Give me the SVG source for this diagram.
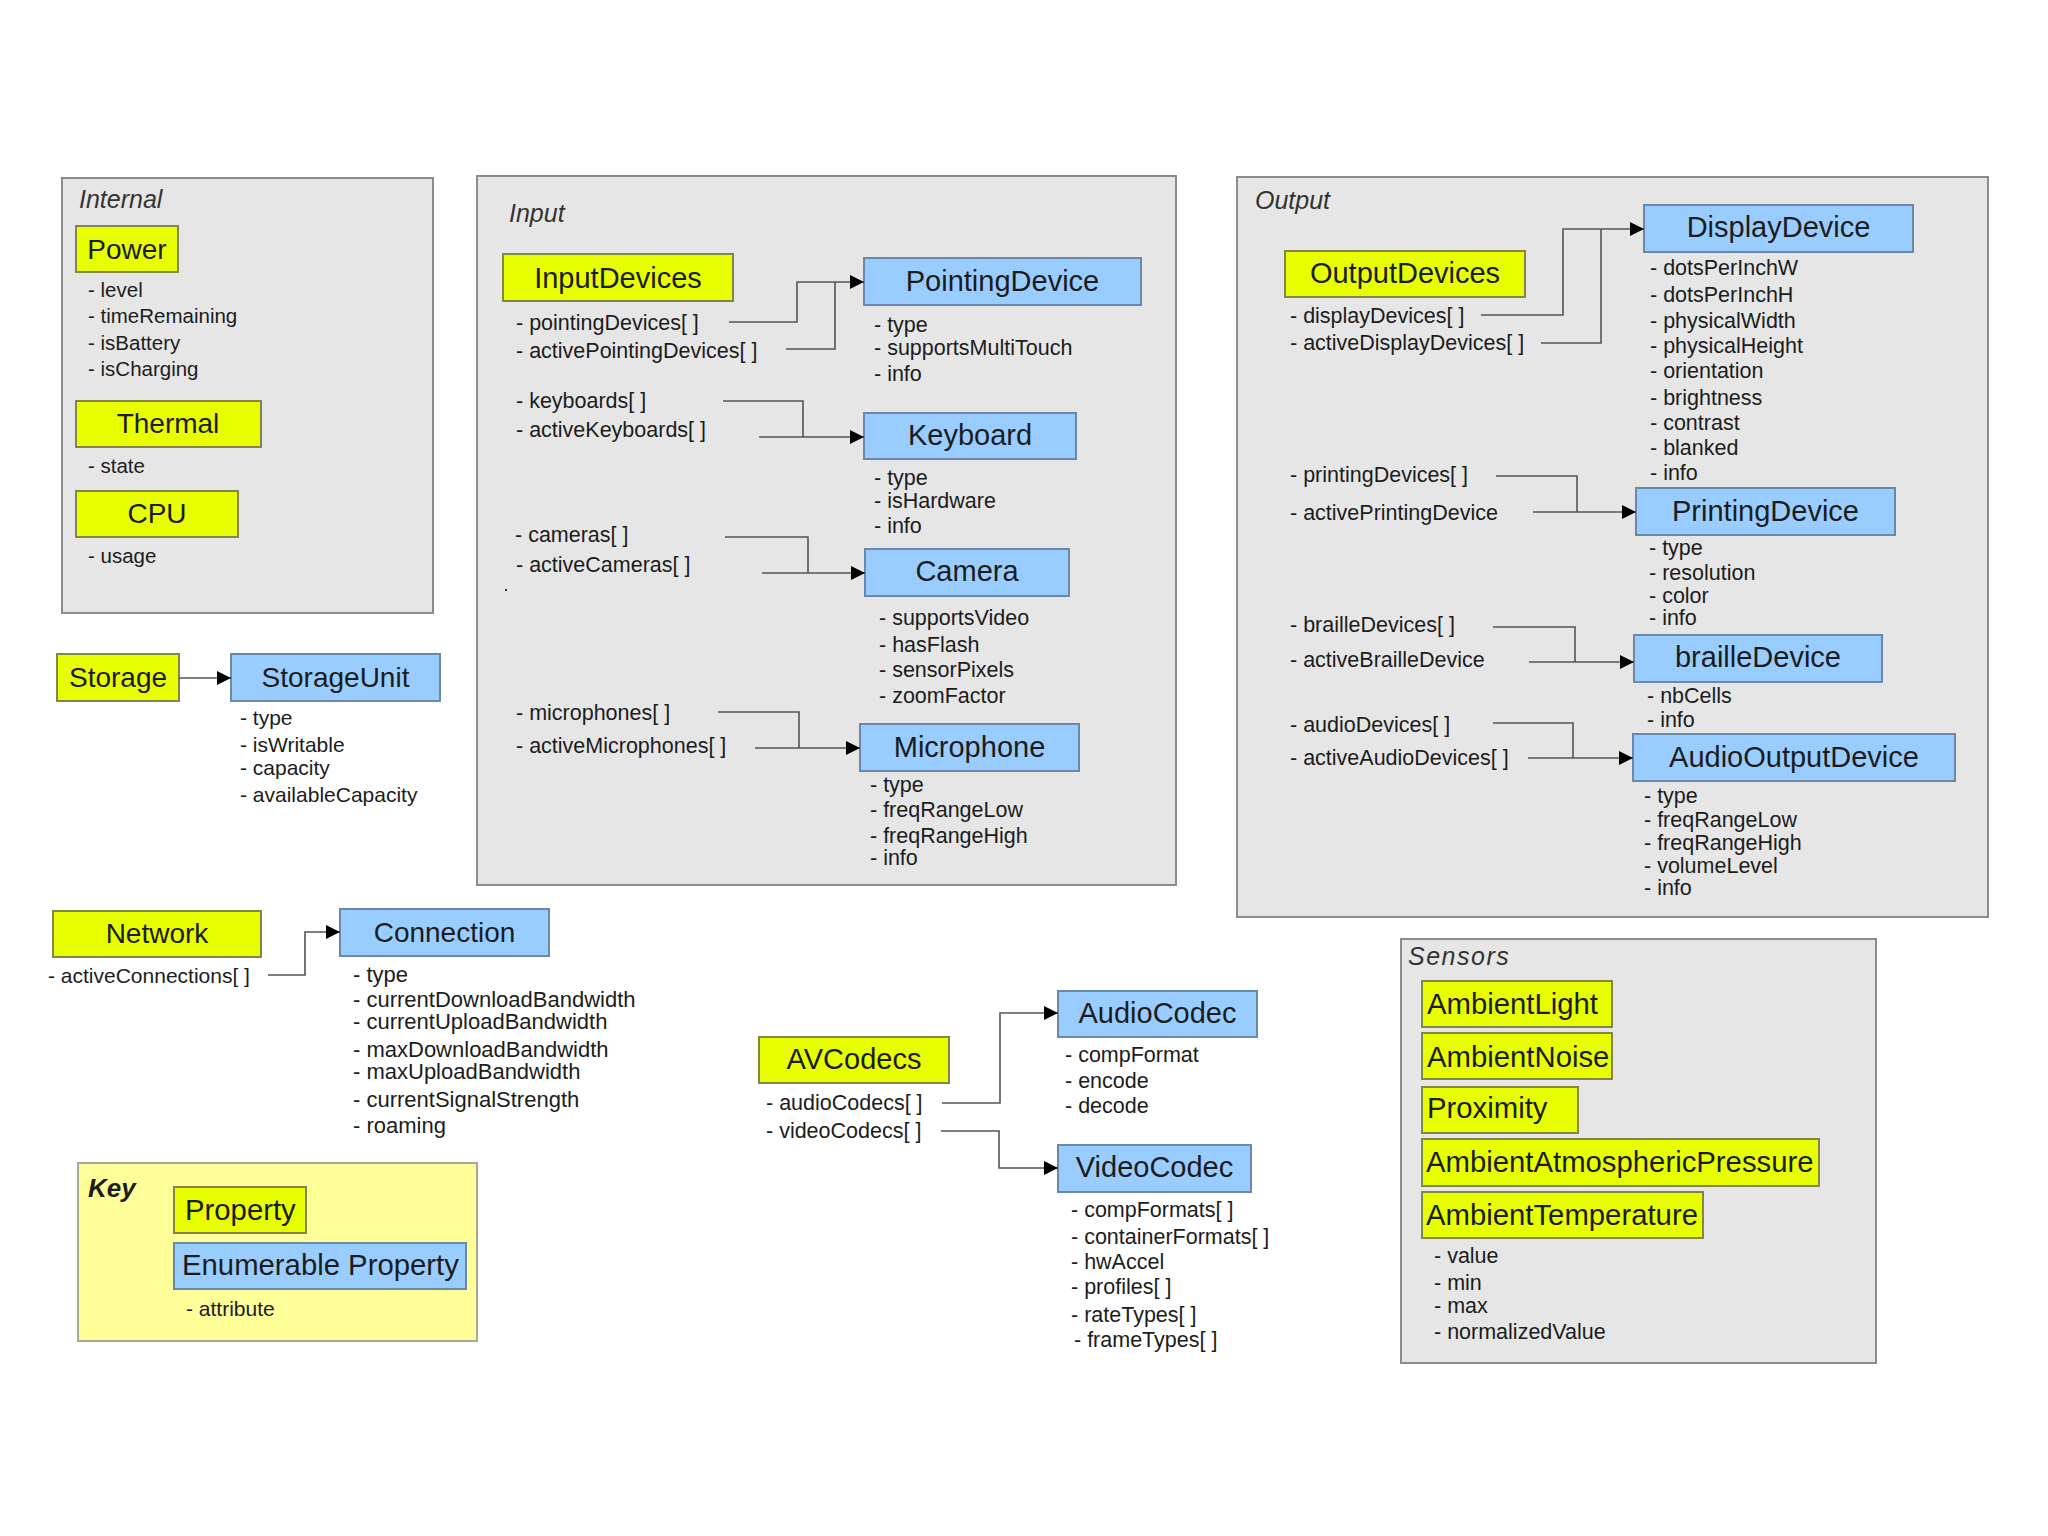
<svg xmlns="http://www.w3.org/2000/svg" width="2048" height="1536" viewBox="0 0 2048 1536">
<defs>
<style>
text{font-family:"Liberation Sans",Arial,sans-serif;fill:#1c1c1c}
.panel{fill:#e6e6e6;stroke:#8c8c8c;stroke-width:2}
.key{fill:#ffff99;stroke:#a8a890;stroke-width:2}
.prop{fill:#e8ff00;stroke:#85854a;stroke-width:2}
.enum{fill:#99ccff;stroke:#6a88a8;stroke-width:2}
.lbl{font-size:28px;text-anchor:middle}
.lbl29{font-size:29px;text-anchor:middle}
.lbll{font-size:29.3px}
.attr{font-size:20.5px}
.attrs{font-size:21px}
.attr21{font-size:21.5px}
.attrc{font-size:22px}
.attrp{font-size:21.5px}
.ptitle{font-size:25px;font-style:italic;fill:#333}
.conn{fill:none;stroke:#555;stroke-width:1.6}
</style>
<marker id="arr" viewBox="0 0 10 10" refX="10" refY="5" markerUnits="userSpaceOnUse" markerWidth="16" markerHeight="14" orient="auto">
<path d="M0,0 L10,5 L0,10 z" fill="#000"/>
</marker>
</defs>
<rect width="2048" height="1536" fill="#fff"/>

<!-- Internal panel -->
<g id="internal">
<rect class="panel" x="62" y="178" width="371" height="435"/>
<text class="ptitle" x="79" y="208">Internal</text>
</g>
<g id="power">
<rect class="prop" x="76" y="226" width="102" height="46"/>
<text class="lbl" x="127" y="259">Power</text>
<text class="attr" x="88" y="297">- level</text>
<text class="attr" x="88" y="323">- timeRemaining</text>
<text class="attr" x="88" y="350">- isBattery</text>
<text class="attr" x="88" y="376">- isCharging</text>
</g>
<g id="thermal">
<rect class="prop" x="76" y="401" width="185" height="46"/>
<text class="lbl" x="168" y="433">Thermal</text>
<text class="attr" x="88" y="473">- state</text>
</g>
<g id="cpu">
<rect class="prop" x="76" y="491" width="162" height="46"/>
<text class="lbl" x="157" y="523">CPU</text>
<text class="attr" x="88" y="563">- usage</text>
</g>

<!-- Input panel -->
<g id="input">
<rect class="panel" x="477" y="176" width="699" height="709"/>
<text class="ptitle" x="509" y="222">Input</text>
<rect x="505" y="589" width="2" height="2" fill="#333"/>
</g>
<g id="inputdevices">
<rect class="prop" x="503" y="254" width="230" height="47"/>
<text class="lbl29" x="618" y="288">InputDevices</text>
<text class="attrp" x="516" y="330">- pointingDevices[ ]</text>
<text class="attrp" x="516" y="358">- activePointingDevices[ ]</text>
<text class="attrp" x="516" y="408">- keyboards[ ]</text>
<text class="attrp" x="516" y="437">- activeKeyboards[ ]</text>
<text class="attrp" x="515" y="542">- cameras[ ]</text>
<text class="attrp" x="516" y="572">- activeCameras[ ]</text>
<text class="attrp" x="516" y="720">- microphones[ ]</text>
<text class="attrp" x="516" y="753">- activeMicrophones[ ]</text>
</g>
<g id="pointingdevice">
<rect class="enum" x="864" y="258" width="277" height="47"/>
<text class="lbl29" x="1002.5" y="291">PointingDevice</text>
<text class="attrp" x="874" y="332">- type</text>
<text class="attrp" x="874" y="355">- supportsMultiTouch</text>
<text class="attrp" x="874" y="381">- info</text>
</g>
<g id="keyboard">
<rect class="enum" x="864" y="413" width="212" height="46"/>
<text class="lbl29" x="970" y="445">Keyboard</text>
<text class="attrp" x="874" y="485">- type</text>
<text class="attrp" x="874" y="508">- isHardware</text>
<text class="attrp" x="874" y="533">- info</text>
</g>
<g id="camera">
<rect class="enum" x="865" y="549" width="204" height="47"/>
<text class="lbl29" x="967" y="581">Camera</text>
<text class="attrp" x="879" y="625">- supportsVideo</text>
<text class="attrp" x="879" y="652">- hasFlash</text>
<text class="attrp" x="879" y="677">- sensorPixels</text>
<text class="attrp" x="879" y="703">- zoomFactor</text>
</g>
<g id="microphone">
<rect class="enum" x="860" y="724" width="219" height="47"/>
<text class="lbl29" x="969.5" y="757">Microphone</text>
<text class="attrp" x="870" y="792">- type</text>
<text class="attrp" x="870" y="817">- freqRangeLow</text>
<text class="attrp" x="870" y="843">- freqRangeHigh</text>
<text class="attrp" x="870" y="865">- info</text>
</g>

<!-- Output panel -->
<g id="output">
<rect class="panel" x="1237" y="177" width="751" height="740"/>
<text class="ptitle" x="1255" y="209">Output</text>
</g>
<g id="outputdevices">
<rect class="prop" x="1285" y="251" width="240" height="46"/>
<text class="lbl29" x="1405" y="283">OutputDevices</text>
<text class="attrp" x="1290" y="323">- displayDevices[ ]</text>
<text class="attrp" x="1290" y="350">- activeDisplayDevices[ ]</text>
<text class="attrp" x="1290" y="482">- printingDevices[ ]</text>
<text class="attrp" x="1290" y="520">- activePrintingDevice</text>
<text class="attrp" x="1290" y="632">- brailleDevices[ ]</text>
<text class="attrp" x="1290" y="667">- activeBrailleDevice</text>
<text class="attrp" x="1290" y="732">- audioDevices[ ]</text>
<text class="attrp" x="1290" y="765">- activeAudioDevices[ ]</text>
</g>
<g id="displaydevice">
<rect class="enum" x="1644" y="205" width="269" height="47"/>
<text class="lbl29" x="1778.5" y="237">DisplayDevice</text>
<text class="attrp" x="1650" y="275">- dotsPerInchW</text>
<text class="attrp" x="1650" y="302">- dotsPerInchH</text>
<text class="attrp" x="1650" y="328">- physicalWidth</text>
<text class="attrp" x="1650" y="353">- physicalHeight</text>
<text class="attrp" x="1650" y="378">- orientation</text>
<text class="attrp" x="1650" y="405">- brightness</text>
<text class="attrp" x="1650" y="430">- contrast</text>
<text class="attrp" x="1650" y="455">- blanked</text>
<text class="attrp" x="1650" y="480">- info</text>
</g>
<g id="printingdevice">
<rect class="enum" x="1636" y="488" width="259" height="47"/>
<text class="lbl29" x="1765.5" y="521">PrintingDevice</text>
<text class="attrp" x="1649" y="555">- type</text>
<text class="attrp" x="1649" y="580">- resolution</text>
<text class="attrp" x="1649" y="603">- color</text>
<text class="attrp" x="1649" y="625">- info</text>
</g>
<g id="brailledevice">
<rect class="enum" x="1634" y="635" width="248" height="47"/>
<text class="lbl29" x="1758" y="667">brailleDevice</text>
<text class="attrp" x="1647" y="703">- nbCells</text>
<text class="attrp" x="1647" y="727">- info</text>
</g>
<g id="audiooutputdevice">
<rect class="enum" x="1633" y="734" width="322" height="47"/>
<text class="lbl29" x="1794" y="767">AudioOutputDevice</text>
<text class="attrp" x="1644" y="803">- type</text>
<text class="attrp" x="1644" y="827">- freqRangeLow</text>
<text class="attrp" x="1644" y="850">- freqRangeHigh</text>
<text class="attrp" x="1644" y="873">- volumeLevel</text>
<text class="attrp" x="1644" y="895">- info</text>
</g>

<!-- Storage -->
<g id="storage">
<rect class="prop" x="57" y="654" width="122" height="47"/>
<text class="lbl" x="118" y="687">Storage</text>
</g>
<g id="storageunit">
<rect class="enum" x="231" y="654" width="209" height="47"/>
<text class="lbl" x="335.5" y="687">StorageUnit</text>
<text class="attrs" x="240" y="725">- type</text>
<text class="attrs" x="240" y="752">- isWritable</text>
<text class="attrs" x="240" y="775">- capacity</text>
<text class="attrs" x="240" y="802">- availableCapacity</text>
</g>

<!-- Network -->
<g id="network">
<rect class="prop" x="53" y="911" width="208" height="46"/>
<text class="lbl" x="157" y="943">Network</text>
<text class="attrs" x="48" y="983">- activeConnections[ ]</text>
</g>
<g id="connection">
<rect class="enum" x="340" y="909" width="209" height="47"/>
<text class="lbl" x="444.5" y="942">Connection</text>
<text class="attrc" x="353" y="982">- type</text>
<text class="attrc" x="353" y="1007">- currentDownloadBandwidth</text>
<text class="attrc" x="353" y="1029">- currentUploadBandwidth</text>
<text class="attrc" x="353" y="1057">- maxDownloadBandwidth</text>
<text class="attrc" x="353" y="1079">- maxUploadBandwidth</text>
<text class="attrc" x="353" y="1107">- currentSignalStrength</text>
<text class="attrc" x="353" y="1133">- roaming</text>
</g>

<!-- AVCodecs -->
<g id="avcodecs">
<rect class="prop" x="759" y="1037" width="190" height="46"/>
<text class="lbl29" x="854" y="1069">AVCodecs</text>
<text class="attrp" x="766" y="1110">- audioCodecs[ ]</text>
<text class="attrp" x="766" y="1138">- videoCodecs[ ]</text>
</g>
<g id="audiocodec">
<rect class="enum" x="1058" y="991" width="199" height="46"/>
<text class="lbl29" x="1157.5" y="1023">AudioCodec</text>
<text class="attrp" x="1065" y="1062">- compFormat</text>
<text class="attrp" x="1065" y="1088">- encode</text>
<text class="attrp" x="1065" y="1113">- decode</text>
</g>
<g id="videocodec">
<rect class="enum" x="1058" y="1145" width="193" height="47"/>
<text class="lbl29" x="1154.5" y="1177">VideoCodec</text>
<text class="attrp" x="1071" y="1217">- compFormats[ ]</text>
<text class="attrp" x="1071" y="1244">- containerFormats[ ]</text>
<text class="attrp" x="1071" y="1269">- hwAccel</text>
<text class="attrp" x="1071" y="1294">- profiles[ ]</text>
<text class="attrp" x="1071" y="1322">- rateTypes[ ]</text>
<text class="attrp" x="1074" y="1347">- frameTypes[ ]</text>
</g>

<!-- Sensors -->
<g id="sensors">
<rect class="panel" x="1401" y="939" width="475" height="424"/>
<text class="ptitle" x="1408" y="965" letter-spacing="1.5">Sensors</text>
<text class="attr21" x="1434" y="1263">- value</text>
<text class="attr21" x="1434" y="1290">- min</text>
<text class="attr21" x="1434" y="1313">- max</text>
<text class="attr21" x="1434" y="1339">- normalizedValue</text>
</g>
<g id="ambientlight">
<rect class="prop" x="1422" y="981" width="190" height="46"/>
<text class="lbll" x="1427" y="1014">AmbientLight</text>
</g>
<g id="ambientnoise">
<rect class="prop" x="1422" y="1033" width="190" height="46"/>
<text class="lbll" x="1427" y="1067">AmbientNoise</text>
</g>
<g id="proximity">
<rect class="prop" x="1422" y="1087" width="156" height="46"/>
<text class="lbll" x="1427" y="1118">Proximity</text>
</g>
<g id="ambientatmosphericpressure">
<rect class="prop" x="1422" y="1139" width="397" height="47"/>
<text class="lbll" x="1426" y="1172">AmbientAtmosphericPressure</text>
</g>
<g id="ambienttemperature">
<rect class="prop" x="1422" y="1192" width="281" height="46"/>
<text class="lbll" x="1426" y="1225">AmbientTemperature</text>
</g>

<!-- Key -->
<g id="key">
<rect class="key" x="78" y="1163" width="399" height="178"/>
<text x="88" y="1197" font-size="26" font-weight="bold" font-style="italic">Key</text>
<rect class="prop" x="174" y="1187" width="132" height="46"/>
<text class="lbll" x="185" y="1220">Property</text>
<rect class="enum" x="174" y="1243" width="292" height="46"/>
<text class="lbll" x="182" y="1275">Enumerable Property</text>
<text class="attrs" x="186" y="1316">- attribute</text>
</g>

<!-- Connectors -->
<g id="connectors">
<path class="conn" d="M729,322 H797 V282 H864" marker-end="url(#arr)"/>
<path class="conn" d="M786,349 H835 V282"/>
<path class="conn" d="M723,401 H803 V437"/>
<path class="conn" d="M759,437 H864" marker-end="url(#arr)"/>
<path class="conn" d="M725,537 H808 V573"/>
<path class="conn" d="M762,573 H865" marker-end="url(#arr)"/>
<path class="conn" d="M718,712 H799 V748"/>
<path class="conn" d="M755,748 H860" marker-end="url(#arr)"/>
<path class="conn" d="M1481,315 H1563 V229 H1644" marker-end="url(#arr)"/>
<path class="conn" d="M1541,343 H1601 V229"/>
<path class="conn" d="M1496,476 H1577 V512"/>
<path class="conn" d="M1533,512 H1636" marker-end="url(#arr)"/>
<path class="conn" d="M1493,627 H1575 V662"/>
<path class="conn" d="M1529,662 H1634" marker-end="url(#arr)"/>
<path class="conn" d="M1493,723 H1573 V758"/>
<path class="conn" d="M1528,758 H1633" marker-end="url(#arr)"/>
<path class="conn" d="M179,678 H231" marker-end="url(#arr)"/>
<path class="conn" d="M268,975 H305 V932 H340" marker-end="url(#arr)"/>
<path class="conn" d="M942,1103 H1000 V1013 H1058" marker-end="url(#arr)"/>
<path class="conn" d="M941,1131 H999 V1168 H1058" marker-end="url(#arr)"/>
</g>
</svg>
